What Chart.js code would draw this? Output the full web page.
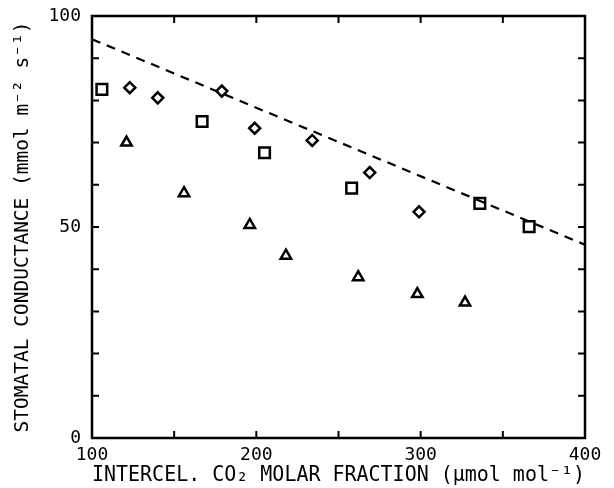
<!DOCTYPE html>
<html>
<head>
<meta charset="utf-8">
<script src="https://cdn.jsdelivr.net/npm/chart.js@4/dist/chart.umd.min.js"></script>
<style>
  html, body { margin: 0; padding: 0; background: #fff; }
  #wrap { width: 614px; height: 488px; }
</style>
</head>
<body>
<div id="wrap"><canvas id="chart" width="614" height="488"></canvas></div>
<script>
'use strict';

// squares
const squareX = [106, 167, 205, 258, 336, 366];
const squareY = [82.6, 75.0, 67.6, 59.2, 55.6, 50.1];
// diamonds
const diamondX = [123, 140, 179, 199, 234, 269, 299];
const diamondY = [83.0, 80.6, 82.2, 73.4, 70.5, 62.9, 53.6];
// triangles
const triangleX = [121, 156, 196, 218, 262, 298, 327];
const triangleY = [70.0, 58.0, 50.5, 43.2, 38.1, 34.1, 32.1];
// dashed line
const lineX = [100, 400];
const lineY = [94.5, 45.8];

const xTickLabels = [100, 200, 300, 400];
const yTickLabels = [0, 50, 100];

const pts = (xs, ys) => xs.map((x, i) => ({ x: x, y: ys[i] }));

const FONT = '"DejaVu Sans Mono", monospace';

// frame and inward ticks on all four sides
const frameTicks = {
	id: 'frameTicks',
	afterDraw(chart) {
		const { ctx, chartArea: a, scales: { x, y } } = chart;
		ctx.save();
		ctx.strokeStyle = '#000';
		ctx.lineWidth = 2.5;
		ctx.strokeRect(a.left, a.top, a.right - a.left, a.bottom - a.top);
		ctx.lineWidth = 2;
		ctx.beginPath();
		for (let v = 150; v < 400; v += 50) {
			const px = x.getPixelForValue(v);
			ctx.moveTo(px, a.bottom); ctx.lineTo(px, a.bottom - 7);
			ctx.moveTo(px, a.top); ctx.lineTo(px, a.top + 7);
		}
		for (let v = 10; v < 100; v += 10) {
			const py = y.getPixelForValue(v);
			ctx.moveTo(a.left, py); ctx.lineTo(a.left + 7, py);
			ctx.moveTo(a.right, py); ctx.lineTo(a.right - 7, py);
		}
		ctx.stroke();
		ctx.restore();
	}
};

const ctx = document.getElementById('chart').getContext('2d');

new Chart(ctx, {
	type: 'scatter',
	data: {
		datasets: [
			{
				data: pts(squareX, squareY),
				pointStyle: 'rect',
				radius: 7.5,
				borderColor: '#000',
				backgroundColor: 'rgba(0,0,0,0)',
				borderWidth: 2.5,
			},
			{
				data: pts(diamondX, diamondY),
				pointStyle: 'rectRot',
				radius: 5.5,
				borderColor: '#000',
				backgroundColor: 'rgba(0,0,0,0)',
				borderWidth: 2.5,
			},
			{
				data: pts(triangleX, triangleY),
				pointStyle: 'triangle',
				radius: 6,
				borderColor: '#000',
				backgroundColor: 'rgba(0,0,0,0)',
				borderWidth: 2.5,
			},
			{
				type: 'line',
				data: pts(lineX, lineY),
				borderColor: '#000',
				borderWidth: 2.2,
				borderDash: [9, 7],
				pointRadius: 0,
				fill: false,
			},
		],
	},
	options: {
		responsive: false,
		animation: false,
		events: [],
		layout: { padding: { left: 0, top: 16, right: 29, bottom: 0 } },
		plugins: { legend: { display: false }, tooltip: { enabled: false } },
		scales: {
			x: {
				type: 'linear',
				min: 100,
				max: 400,
				afterFit: (s) => { s.height = 50; s.paddingLeft = 0; s.paddingRight = 0; },
				afterBuildTicks: (s) => { s.ticks = xTickLabels.map((v) => ({ value: v })); },
				grid: { display: false, drawTicks: false },
				border: { display: false },
				ticks: {
					padding: 7,
					color: '#000',
					font: { family: FONT, size: 18 },
					maxRotation: 0,
				},
				title: {
					display: true,
					text: 'INTERCEL. CO\u2082 MOLAR FRACTION (\u03bcmol mol\u207b\u00b9)',
					color: '#000',
					font: { family: FONT, size: 20.5 },
					padding: { top: 0, bottom: 0 },
				},
			},
			y: {
				min: 0,
				max: 100,
				afterFit: (s) => { s.width = 92; s.paddingTop = 0; s.paddingBottom = 0; },
				afterBuildTicks: (s) => { s.ticks = yTickLabels.map((v) => ({ value: v })); },
				grid: { display: false, drawTicks: false },
				border: { display: false },
				ticks: {
					padding: 11,
					color: '#000',
					font: { family: FONT, size: 18 },
				},
				title: {
					display: true,
					text: 'STOMATAL CONDUCTANCE (mmol m\u207b\u00b2 s\u207b\u00b9)',
					color: '#000',
					font: { family: FONT, size: 19.5 },
					padding: { top: 11, bottom: 0 },
				},
			},
		},
	},
	plugins: [frameTicks],
});
</script>
</body>
</html>
